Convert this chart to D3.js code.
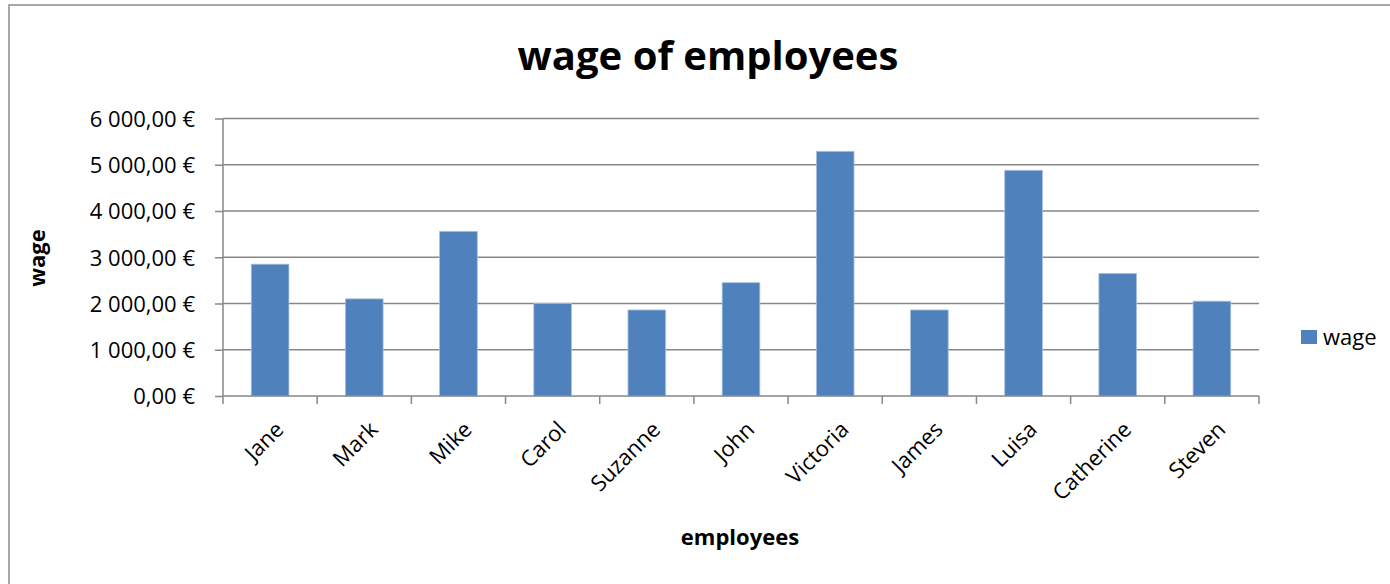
<!DOCTYPE html>
<html><head><meta charset="utf-8">
<script src="https://cdn.jsdelivr.net/npm/d3@7/dist/d3.min.js"></script>
<style>
html,body{margin:0;padding:0;background:#fff;}
svg{display:block;font-family:"Open Sans",Lato,sans-serif;}
</style></head><body>
<svg id="c" width="1390" height="584"></svg>
<script>
const categories = ["Jane","Mark","Mike","Carol","Suzanne","John","Victoria","James","Luisa","Catherine","Steven"];
const wages = [2850,2100,3560,2000,1860,2450,5290,1860,4880,2650,2050];
const yTicks = [0,1000,2000,3000,4000,5000,6000];
const seriesName = "wage";
const titleText = "wage of employees";
const xTitle = "employees";
const yTitle = "wage";

const svg = d3.select("#c");
const W = 1390, H = 584;
const m = {left:223, right:1259, top:118.5, bottom:396};
const FONT = "'Open Sans',Lato,sans-serif";

// chart frame
svg.append("rect").attr("x",9).attr("y",5).attr("width",W).attr("height",H)
  .attr("fill","#fff").attr("stroke","#8c8c8c").attr("stroke-width",1.5);

const x = d3.scaleBand().domain(categories).range([m.left,m.right]).paddingInner(0.6).paddingOuter(0.3);
const xb = d3.scaleBand().domain(categories).range([m.left,m.right]);
const y = d3.scaleLinear().domain([0,6000]).range([m.bottom,m.top]);

const fmt = v => {
  const s = d3.format(",.2f")(v);
  return s.replace(/,/g," ").replace(".",",") + " €";
};

// gridlines
svg.append("g").selectAll("line").data(yTicks.filter(d=>d>0)).join("line")
  .attr("x1",m.left).attr("x2",m.right)
  .attr("y1",d=>y(d)).attr("y2",d=>y(d))
  .attr("stroke","#878787").attr("stroke-width",1.5);

// bars
svg.append("g").selectAll("rect").data(wages).join("rect")
  .attr("x",(d,i)=>x(categories[i]))
  .attr("width",x.bandwidth())
  .attr("y",d=>y(d))
  .attr("height",d=>y(0)-y(d))
  .attr("fill","#4F81BD")
  .attr("stroke","#a9c0de").attr("stroke-width",0.8);

// y axis
const yAxis = d3.axisLeft(y).tickValues(yTicks).tickFormat(fmt).tickSize(8).tickPadding(20);
const gy = svg.append("g").attr("transform",`translate(${m.left},0)`).call(yAxis);
gy.select(".domain").attr("stroke","#878787").attr("stroke-width",1.5).attr("d",`M0,${m.top}V${m.bottom}`);
gy.selectAll(".tick line").attr("stroke","#878787").attr("stroke-width",1.5);
gy.selectAll(".tick text").attr("fill","#000").attr("font-size",22).attr("font-family",FONT).attr("dy","0.36em");

// x axis
const gx = svg.append("g").attr("transform",`translate(0,${m.bottom})`);
gx.append("line").attr("x1",m.left).attr("x2",m.right).attr("stroke","#878787").attr("stroke-width",1.5);
const bounds = categories.map(c=>xb(c)).concat([m.right]);
gx.selectAll("line.tk").data(bounds).join("line").attr("class","tk")
  .attr("x1",d=>d).attr("x2",d=>d).attr("y1",0).attr("y2",8)
  .attr("stroke","#878787").attr("stroke-width",1.5);
gx.selectAll("text").data(categories).join("text")
  .attr("transform",c=>`translate(${xb(c)+xb.bandwidth()/2+4},${24}) rotate(-45)`)
  .attr("text-anchor","end").attr("dy","0.7em")
  .attr("font-size",22).attr("fill","#000").text(d=>d);

// title
svg.append("text").attr("x",708).attr("y",70).attr("text-anchor","middle")
  .attr("font-size",40).attr("font-weight","bold").attr("fill","#000").text(titleText);

// axis titles
svg.append("text").attr("x",740).attr("y",545).attr("text-anchor","middle")
  .attr("font-size",22).attr("font-weight","bold").attr("fill","#000").text(xTitle);
svg.append("text").attr("transform",`translate(45,258) rotate(-90)`).attr("text-anchor","middle")
  .attr("font-size",22).attr("font-weight","bold").attr("fill","#000").text(yTitle);

// legend
svg.append("rect").attr("x",1301).attr("y",330).attr("width",16).attr("height",14).attr("fill","#4F81BD");
svg.append("text").attr("x",1323).attr("y",345).attr("font-size",22).attr("fill","#000").text(seriesName);
</script>
</body></html>
